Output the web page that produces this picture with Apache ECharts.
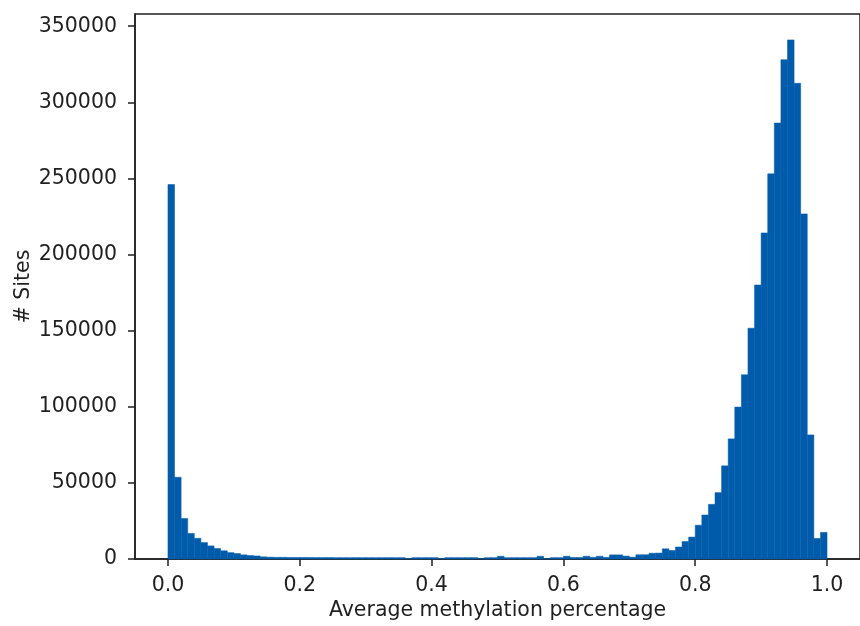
<!DOCTYPE html>
<html>
<head>
<meta charset="utf-8">
<title>Average methylation percentage</title>
<script src="https://cdn.jsdelivr.net/npm/echarts@6/dist/echarts.min.js"></script>
<style>
  html, body { margin: 0; padding: 0; background: #fff; }
  #chart { width: 860px; height: 626px; }
</style>
</head>
<body>
<div id="chart"></div>
<script>
// histogram: 100 bins of width 0.01 between 0 and 1
const binWidth = 0.01;
const counts = [
    246000, 53700, 26600, 16800, 13600, 10800, 8600, 6900, 5400, 4200,
    3600, 2700, 2300, 2000, 1400, 1200, 1100, 1100, 1000, 1000,
    1000, 1000, 950, 950, 950, 900, 900, 900, 900, 900,
    900, 900, 900, 900, 900, 900, 300, 900, 900, 900,
    900, 300, 900, 900, 900, 900, 900, 250, 900, 900,
    1800, 900, 900, 900, 900, 900, 1800, 300, 900, 900,
    1800, 1000, 1000, 1800, 1100, 1800, 1100, 2700, 2700, 1900,
    1200, 2800, 2800, 3800, 3900, 6700, 5600, 7900, 11500, 14400,
    22200, 28900, 35900, 43600, 61200, 78900, 99800, 121000, 151600, 180000,
    214200, 253000, 286400, 328000, 341000, 312500, 226700, 81500, 13500, 17500
];
const xTicks = [0, 0.2, 0.4, 0.6, 0.8, 1.0];
const yTicks = [0, 50000, 100000, 150000, 200000, 250000, 300000, 350000];

const barColor = '#005cab';
const inkColor = '#1f1f1f';
const fontFamily = '"DejaVu Sans", sans-serif';
const fontSize = 20.5;

// [binStart, binEnd, count]
const histData = counts.map((c, i) => [i * binWidth, (i + 1) * binWidth, c]);

const chart = echarts.init(document.getElementById('chart'), null, { renderer: 'canvas' });

chart.setOption({
    animation: false,
    backgroundColor: '#fff',
    grid: {
        left: 135,
        top: 14,
        width: 733,
        height: 547,
        show: true,
        borderColor: inkColor,
        borderWidth: 1.5,
        backgroundColor: 'transparent',
    },
    xAxis: {
        type: 'value',
        min: -0.05,
        max: 1.05,
        name: 'Average methylation percentage',
        nameLocation: 'middle',
        nameGap: 41,
        nameMoveOverlap: false,
        nameTextStyle: { color: inkColor, fontSize, fontFamily },
        axisLine: { show: true, onZero: false, lineStyle: { color: inkColor, width: 1.5 } },
        splitLine: { show: false },
        axisTick: {
            show: true,
            inside: false,
            length: 7,
            customValues: xTicks,
            lineStyle: { color: inkColor, width: 1.5 },
        },
        axisLabel: {
            customValues: xTicks,
            margin: 16,
            color: inkColor,
            fontSize,
            fontFamily,
            formatter: (v) => v.toFixed(1),
        },
    },
    yAxis: {
        type: 'value',
        min: 0,
        max: 358000,
        name: '# Sites',
        nameLocation: 'middle',
        nameGap: 101,
        nameMoveOverlap: false,
        nameTextStyle: { color: inkColor, fontSize, fontFamily },
        axisLine: { show: true, onZero: false, lineStyle: { color: inkColor, width: 1.5 } },
        splitLine: { show: false },
        axisTick: {
            show: true,
            inside: false,
            length: 7,
            customValues: yTicks,
            lineStyle: { color: inkColor, width: 1.5 },
        },
        axisLabel: {
            customValues: yTicks,
            margin: 18,
            color: inkColor,
            fontSize,
            fontFamily,
            formatter: (v) => String(v),
        },
    },
    series: [{
        type: 'custom',
        data: histData,
        encode: { x: [0, 1], y: 2 },
        renderItem: (params, api) => {
            const topLeft = api.coord([api.value(0), api.value(2)]);
            const bottomRight = api.coord([api.value(1), 0]);
            return {
                type: 'rect',
                shape: {
                    x: topLeft[0],
                    y: topLeft[1],
                    width: bottomRight[0] - topLeft[0],
                    height: bottomRight[1] - topLeft[1],
                },
                style: { fill: barColor, stroke: barColor, lineWidth: 0.5 },
            };
        },
    }],
});
</script>
</body>
</html>
